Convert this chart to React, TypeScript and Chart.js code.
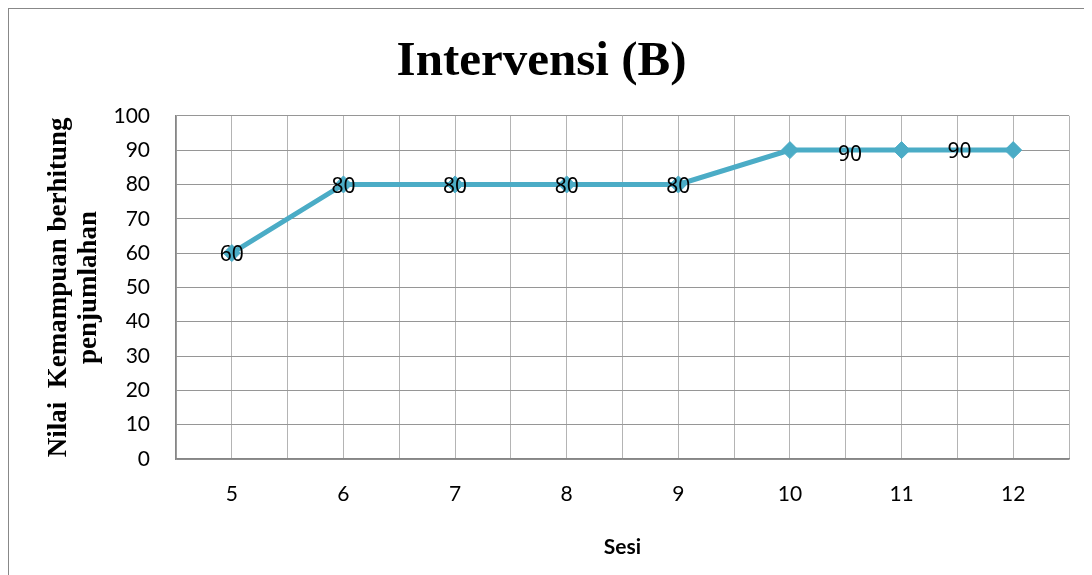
import { useEffect, useRef } from 'react';
import { Chart, registerables } from 'chart.js';

Chart.register(...registerables);

// Session numbers and scores for the intervention phase
const sesi = [5, 6, 7, 8, 9, 10, 11, 12];
const nilai = [60, 80, 80, 80, 80, 90, 90, 90];

const chartTitle = 'Intervensi (B)';
const yTitle = ['Nilai  Kemampuan berhitung', 'penjumlahan'];
const xTitle = 'Sesi';

// Where each value label sits relative to its point ([dx, dy]); null = no label
const labelShift: ([number, number] | null)[] = [
  [0, 2], [0, 3], [0, 3], [0, 3], [0, 3], [60, 5], [58, 2], null,
];

const LINE_COLOR = '#4BACC6';

const valueLabels = {
  id: 'valueLabels',
  afterDatasetsDraw(chart: any) {
    const meta = chart.getDatasetMeta(0);
    const ctx = chart.ctx;
    ctx.save();
    ctx.font = '21px "Noto Sans"';
    ctx.fillStyle = '#000';
    ctx.textAlign = 'center';
    ctx.textBaseline = 'middle';
    meta.data.forEach((pt: any, i: number) => {
      const s = labelShift[i];
      if (!s) return;
      ctx.fillText(String(nilai[i]), pt.x + s[0], pt.y + s[1]);
    });
    ctx.restore();
  },
};

export default function App() {
  const canvasRef = useRef<HTMLCanvasElement | null>(null);

  useEffect(() => {
    const canvas = canvasRef.current;
    if (!canvas) return;
    const chart = new Chart(canvas, {
      type: 'line',
      data: {
        datasets: [
          {
            data: sesi.map((s, i) => ({ x: s, y: nilai[i] })),
            borderColor: LINE_COLOR,
            backgroundColor: LINE_COLOR,
            borderWidth: 5,
            pointStyle: 'rectRot',
            pointRadius: 8.5,
            pointBorderWidth: 1,
            pointBorderColor: LINE_COLOR,
            pointBackgroundColor: LINE_COLOR,
            tension: 0,
          },
        ],
      },
      options: {
        responsive: false,
        animation: false,
        layout: { padding: { left: 0, right: 18, top: 0, bottom: 0 } },
        plugins: {
          legend: { display: false },
          tooltip: { enabled: false },
          title: {
            display: true,
            text: chartTitle,
            color: '#000',
            font: { family: '"Liberation Serif", serif', size: 49, weight: 'bold', lineHeight: 1.2 },
            padding: { top: 24, bottom: 24 },
          },
        },
        scales: {
          x: {
            type: 'linear',
            min: 4.5,
            max: 12.5,
            afterFit: (s: any) => {
              s.height = 116;
            },
            ticks: {
              stepSize: 0.5,
              autoSkip: false,
              maxRotation: 0,
              padding: 23,
              color: '#000',
              font: { family: 'Lato, "Open Sans", sans-serif', size: 21 },
              callback: (v: any) => (Number.isInteger(v) && sesi.includes(v) ? String(v) : ''),
            },
            grid: { color: '#b4b4b4', drawTicks: false, lineWidth: 1 },
            border: { color: '#868686', width: 1.5 },
            title: {
              display: true,
              text: xTitle,
              color: '#000',
              font: { family: 'Lato, "Open Sans", sans-serif', size: 21, weight: 'bold' },
              padding: { top: 0, bottom: 15 },
            },
          },
          y: {
            min: 0,
            max: 100,
            afterFit: (s: any) => {
              s.width = 167;
            },
            ticks: {
              stepSize: 10,
              padding: 26,
              color: '#000',
              font: { family: 'Lato, "Open Sans", sans-serif', size: 21 },
            },
            grid: { color: '#969696', drawTicks: false, lineWidth: 1 },
            border: { color: '#868686', width: 1.5 },
            title: {
              display: true,
              text: yTitle,
              color: '#000',
              font: { family: '"Liberation Serif", serif', size: 27, weight: 'bold', lineHeight: 1.11 },
              padding: { top: 35, bottom: 0 },
            },
          },
        },
      },
      plugins: [valueLabels],
    } as any);
    return () => chart.destroy();
  }, []);

  return (
    <div
      style={{
        width: 1083,
        height: 566,
        borderLeft: '1px solid #888',
        borderTop: '1px solid #888',
        background: '#fff',
      }}
    >
      <canvas ref={canvasRef} width={1083} height={566} style={{ display: 'block' }} />
    </div>
  );
}
